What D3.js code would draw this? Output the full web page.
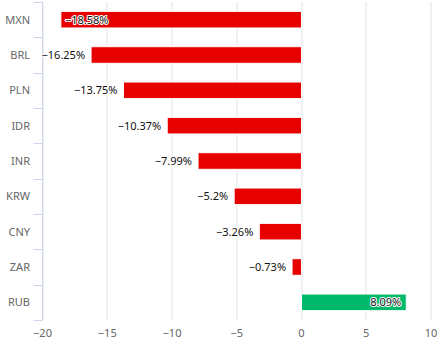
<!DOCTYPE html>
<html><head><meta charset="utf-8">
<script src="https://cdn.jsdelivr.net/npm/d3@7"></script>
<style>
html,body{margin:0;padding:0;background:#fff;}
svg{display:block;font-family:"Noto Sans","DejaVu Sans",sans-serif;}
</style></head>
<body>
<svg id="chart" width="446" height="364"></svg>
<script>
const categories = ["MXN","BRL","PLN","IDR","INR","KRW","CNY","ZAR","RUB"];
const values = [-18.58,-16.25,-13.75,-10.37,-7.99,-5.2,-3.26,-0.73,8.09];
const xTicks = [-20,-15,-10,-5,0,5,10];

(function(){
const svg = d3.select("#chart");
const pl = 42.5, pr = 431, pt = 2, pb = 320;
const x = d3.scaleLinear().domain([-20,10]).range([pl,pr]);
const y = d3.scaleBand().domain(categories).range([pt,pb]).paddingInner(0.53).paddingOuter(0.265);
const yb = d3.scaleBand().domain(categories).range([pt,pb]);
const fmt = v => (v<0?"\u2212":"") + Math.abs(v) + "%";

// gridlines
svg.append("g").selectAll("line").data(xTicks).join("line")
  .attr("x1",d=>Math.round(x(d))).attr("x2",d=>Math.round(x(d)))
  .attr("y1",pt).attr("y2",pb)
  .attr("stroke","#ececec").attr("stroke-width",1.5);

// x tick labels
svg.append("g").selectAll("text").data(xTicks).join("text")
  .attr("x",d=>x(d)).attr("y",337)
  .attr("text-anchor","middle").attr("font-size",11).attr("fill","#666")
  .text(d=>d<0?"\u2212"+Math.abs(d):d);

// y axis line & ticks
const yaxis = svg.append("g");
yaxis.append("line").attr("x1",pl).attr("x2",pl).attr("y1",pt).attr("y2",pb)
  .attr("stroke","#ccd6eb").attr("stroke-width",1);
const bounds = categories.map(c=>yb(c)).concat([pb]);
yaxis.selectAll("line.t").data(bounds).join("line").attr("class","t")
  .attr("x1",pl-9).attr("x2",pl).attr("y1",d=>Math.round(d)+0.5).attr("y2",d=>Math.round(d)+0.5)
  .attr("stroke","#ccd6eb").attr("stroke-width",1);
yaxis.selectAll("text").data(categories).join("text")
  .attr("x",30).attr("y",d=>yb(d)+yb.bandwidth()/2).attr("dy","0.35em")
  .attr("text-anchor","end").attr("font-size",11).attr("fill","#666").text(d=>d);

// bars
svg.append("g").selectAll("rect").data(values).join("rect")
  .attr("x",d=>x(Math.min(0,d))).attr("width",d=>Math.abs(x(d)-x(0)))
  .attr("y",(d,i)=>y(categories[i])).attr("height",y.bandwidth())
  .attr("fill",d=>d<0?"#e60000":"#00b96b")
  .attr("stroke","#fff").attr("stroke-width",1);

// data labels
svg.append("g").selectAll("text").data(values).join("text")
  .attr("y",(d,i)=>y(categories[i])+y.bandwidth()/2).attr("dy","0.35em")
  .attr("font-size",11).attr("fill","#111")
  .attr("stroke","#fff").attr("stroke-width",2).attr("paint-order","stroke").attr("stroke-linejoin","round")
  .each(function(d){
    const t = d3.select(this);
    if (d >= 0) { t.attr("x",x(d)-5).attr("text-anchor","end"); }
    else if (x(d) - 45 < pl - 10) { t.attr("x",x(d)+4).attr("text-anchor","start"); }
    else { t.attr("x",x(d)-6).attr("text-anchor","end"); }
  })
  .text(d=>fmt(d));
})();
</script>
</body></html>
